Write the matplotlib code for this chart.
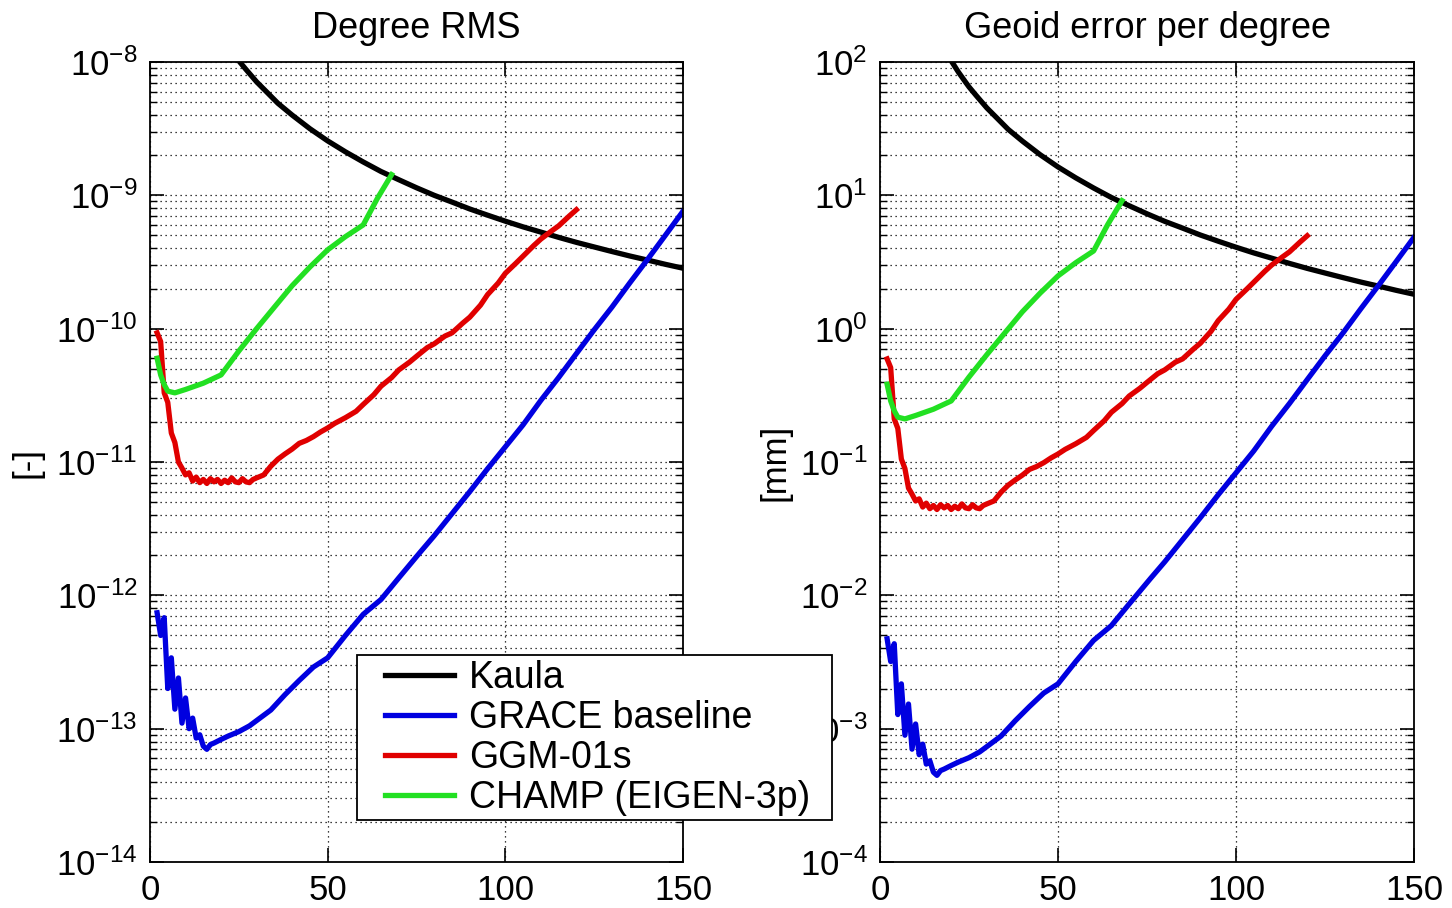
import matplotlib
matplotlib.use("Agg")
import matplotlib.pyplot as plt
import numpy as np
from matplotlib.ticker import FixedLocator, NullFormatter
from matplotlib.patches import Rectangle

plt.rcParams['font.family'] = ['Liberation Sans', 'DejaVu Sans']
plt.rcParams['mathtext.fontset'] = 'custom'
plt.rcParams['mathtext.rm'] = 'Liberation Sans'
plt.rcParams['mathtext.it'] = 'Liberation Sans'
plt.rcParams['mathtext.bf'] = 'Liberation Sans'

# ---------------- data (degree RMS, dimensionless) ----------------
kaula_deg = [16, 18, 20, 22, 24, 25, 27, 30, 33, 36, 40, 45, 50, 55, 60, 65, 70, 75, 80,
             85, 90, 95, 100, 105, 110, 115, 120, 125, 130, 135, 140, 145, 150]
kaula_rms = [2.5e-8, 1.98e-8, 1.6e-8, 1.32e-8, 1.11e-8, 1.02e-8, 8.8e-9, 7.1e-9, 5.9e-9,
             4.9e-9, 4.0e-9, 3.16e-9, 2.56e-9, 2.12e-9, 1.78e-9, 1.51e-9, 1.31e-9, 1.14e-9,
             1.0e-9, 8.9e-10, 7.9e-10, 7.1e-10, 6.4e-10, 5.8e-10, 5.3e-10, 4.84e-10,
             4.44e-10, 4.1e-10, 3.79e-10, 3.51e-10, 3.27e-10, 3.04e-10, 2.84e-10]

grace_deg = [2, 3, 4, 5, 6, 7, 8, 9, 10, 11, 12, 13, 14, 15, 16, 17, 18, 20, 22, 25, 28,
             30, 34, 38, 42, 46, 50, 55, 60, 65, 70, 76, 80, 85, 90, 95, 100, 105, 110,
             115, 120, 125, 130, 135, 140, 145, 150]
grace_rms = [7.4e-13, 5.0e-13, 6.8e-13, 2.0e-13, 3.4e-13, 1.4e-13, 2.4e-13, 1.1e-13,
             1.7e-13, 1.0e-13, 1.2e-13, 8.5e-14, 9.0e-14, 7.4e-14, 7.0e-14, 7.6e-14, 7.8e-14,
             8.3e-14, 8.8e-14, 9.5e-14, 1.05e-13, 1.15e-13, 1.38e-13, 1.8e-13, 2.3e-13,
             2.9e-13, 3.4e-13, 5.0e-13, 7.2e-13, 9.3e-13, 1.35e-12, 2.1e-12, 2.8e-12,
             4.1e-12, 6.0e-12, 8.9e-12, 1.3e-11, 1.9e-11, 2.9e-11, 4.3e-11, 6.5e-11,
             9.8e-11, 1.45e-10, 2.2e-10, 3.3e-10, 5.0e-10, 7.6e-10]

ggm_deg = [2, 3, 4, 5, 6, 7, 8, 9, 10, 11, 12, 13, 14, 15, 16, 17, 18, 19, 20, 21, 22,
           23, 24, 25, 26, 27, 28, 29, 30, 32, 34, 36, 38, 40, 42, 44, 46, 48, 50, 52,
           55, 58, 60, 63, 65, 68, 70, 73, 75, 78, 80, 83, 85, 88, 90, 93, 95, 98, 100,
           103, 105, 108, 110, 113, 115, 118, 120]
ggm_rms = [9.3e-11, 8.0e-11, 3.3e-11, 2.8e-11, 1.65e-11, 1.4e-11, 1.0e-11, 9.0e-12,
           8.0e-12, 8.3e-12, 7.2e-12, 7.7e-12, 7.0e-12, 7.4e-12, 6.9e-12, 7.5e-12, 7.1e-12,
           7.4e-12, 6.9e-12, 7.3e-12, 7.0e-12, 7.6e-12, 7.1e-12, 7.0e-12, 7.5e-12, 7.1e-12,
           7.0e-12, 7.4e-12, 7.6e-12, 8.0e-12, 9.3e-12, 1.05e-11, 1.15e-11, 1.25e-11,
           1.38e-11, 1.45e-11, 1.55e-11, 1.68e-11, 1.8e-11, 1.95e-11, 2.15e-11, 2.4e-11,
           2.7e-11, 3.2e-11, 3.7e-11, 4.3e-11, 4.9e-11, 5.6e-11, 6.2e-11, 7.2e-11, 7.7e-11,
           8.8e-11, 9.3e-11, 1.1e-10, 1.22e-10, 1.5e-10, 1.8e-10, 2.2e-10, 2.6e-10,
           3.1e-10, 3.5e-10, 4.2e-10, 4.7e-10, 5.4e-10, 5.9e-10, 7.0e-10, 7.8e-10]

champ_deg = [2, 3, 4, 5, 7, 10, 15, 20, 25, 30, 35, 40, 45, 50, 55, 60, 64, 68]
champ_rms = [6.0e-11, 4.5e-11, 3.8e-11, 3.4e-11, 3.3e-11, 3.5e-11, 3.9e-11, 4.5e-11,
             6.8e-11, 1.0e-10, 1.45e-10, 2.1e-10, 2.9e-10, 3.9e-10, 4.9e-10, 6.0e-10,
             9.5e-10, 1.43e-9]

EARTH_RADIUS_MM = 6.378e9   # geoid error per degree = R * degree RMS

x_ticks = [0, 50, 100, 150]
left_decades = [-14, -13, -12, -11, -10, -9, -8]
right_decades = [-4, -3, -2, -1, 0, 1, 2]

series = [
    ("Kaula", kaula_deg, kaula_rms, "#000000"),
    ("GRACE baseline", grace_deg, grace_rms, "#0000E0"),
    ("GGM-01s", ggm_deg, ggm_rms, "#E00000"),
    ("CHAMP (EIGEN-3p)", champ_deg, champ_rms, "#22E022"),
]

fig = plt.figure(figsize=(14.52, 9.08), dpi=100)
axL = fig.add_axes([150 / 1452, 46 / 908, 533 / 1452, 800 / 908])
axR = fig.add_axes([880 / 1452, 46 / 908, 534 / 1452, 800 / 908])

FS_TICK = 25
grid_kw = dict(color='black', linestyle=(0, (1, 3)), linewidth=0.9)

def style(ax, decades, title, ylabel, labelpad):
    ax.set_yscale('log')
    ax.set_xlim(x_ticks[0], x_ticks[-1])
    ax.set_ylim(10.0 ** decades[0], 10.0 ** decades[-1])
    ax.set_xticks(x_ticks)
    ax.yaxis.set_major_locator(FixedLocator([10.0 ** d for d in decades]))
    minors = [m * 10.0 ** d for d in decades[:-1] for m in range(2, 10)]
    ax.yaxis.set_minor_locator(FixedLocator(minors))
    ax.yaxis.set_minor_formatter(NullFormatter())
    ax.tick_params(axis='both', which='major', direction='in', length=10, width=1.2,
                   top=True, right=True, labelsize=FS_TICK, pad=9)
    ax.tick_params(axis='both', which='minor', direction='in', length=5, width=1.0,
                   top=True, right=True)
    ax.grid(True, which='major', **grid_kw)
    ax.grid(True, which='minor', axis='y', **grid_kw)
    for s in ax.spines.values():
        s.set_linewidth(1.3)
    ax.set_title(title, fontsize=26, pad=17)
    ax.set_ylabel(ylabel, fontsize=25, labelpad=labelpad)

handles = []
for name, deg, val, col in series:
    h, = axL.plot(deg, val, color=col, linewidth=3.8, label=name, solid_joinstyle='round')
    axR.plot(deg, np.array(val) * EARTH_RADIUS_MM, color=col, linewidth=3.8,
             solid_joinstyle='round')
    handles.append(h)

style(axL, left_decades, "Degree RMS", "[-]", 9)
style(axR, right_decades, "Geoid error per degree", "[mm]", 6)

# legend box (frame drawn separately to get MATLAB-like wide side padding)
frame = Rectangle((357 / 1452, 88 / 908), 475 / 1452, 165 / 908,
                  transform=fig.transFigure, facecolor='white', edgecolor='black',
                  linewidth=1.3, zorder=4)
fig.patches.append(frame)
leg = fig.legend(handles=handles, loc='center left',
                 bbox_to_anchor=(385 / 1452, 170 / 908), fontsize=27,
                 frameon=False, handlelength=1.85, borderpad=0.0, labelspacing=0.1,
                 handletextpad=0.4, borderaxespad=0)
leg.set_zorder(5)
for ln in leg.get_lines():
    ln.set_linewidth(3.8)

fig.savefig("out.png", dpi=100)
